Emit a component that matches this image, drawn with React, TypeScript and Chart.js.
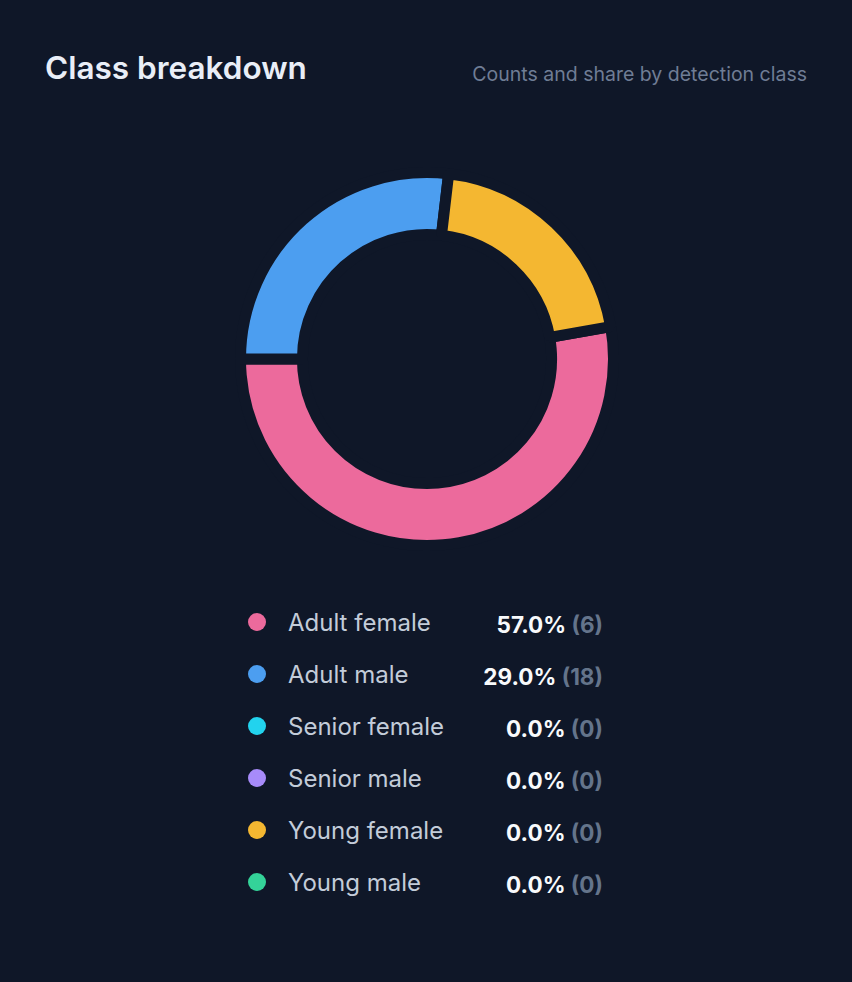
import React, { useEffect, useRef } from "react";
import { Chart, registerables } from "chart.js";

Chart.register(...registerables);

// Detection classes and their swatch colours
const classes = [
  "Adult female",
  "Adult male",
  "Senior female",
  "Senior male",
  "Young female",
  "Young male",
];
const classColors = ["#ec6a9c", "#4c9ef0", "#22d3ee", "#a78bfa", "#f4b731", "#34d399"];

// Share (%) and count printed in the legend list
const sharePercents = [57.0, 29.0, 0.0, 0.0, 0.0, 0.0];
const classCounts = [6, 18, 0, 0, 0, 0];

// Values the doughnut ring is drawn from
const ringValues = [57, 29, 0, 0, 22, 0];

const BG = "#0f1728";

export default function App() {
  const canvasRef = useRef<HTMLCanvasElement>(null);

  useEffect(() => {
    if (!canvasRef.current) return;
    const chart = new Chart(canvasRef.current, {
      type: "doughnut",
      data: {
        labels: classes,
        datasets: [
          {
            data: ringValues,
            backgroundColor: classColors,
            borderColor: BG,
            borderWidth: 11,
            hoverOffset: 0,
          },
        ],
      },
      options: {
        responsive: false,
        animation: false,
        rotation: 80,
        cutout: "66.8%",
        layout: { padding: 0 },
        plugins: {
          legend: { display: false },
          tooltip: { enabled: false },
        },
      },
    });
    return () => chart.destroy();
  }, []);

  return (
    <div
      style={{
        position: "fixed",
        inset: 0,
        background: BG,
        fontFamily: "Inter, 'Noto Sans', sans-serif",
      }}
    >
      <div
        style={{
          position: "absolute",
          left: 45,
          top: 49,
          fontSize: 31.5,
          lineHeight: "38px",
          fontWeight: 600,
          color: "#e9eef7",
          whiteSpace: "nowrap",
        }}
      >
        Class breakdown
      </div>
      <div
        style={{
          position: "absolute",
          right: 45,
          top: 62,
          fontSize: 19.5,
          lineHeight: "24px",
          color: "#6f7d95",
          whiteSpace: "nowrap",
        }}
      >
        Counts and share by detection class
      </div>

      <canvas
        ref={canvasRef}
        width={384}
        height={384}
        style={{ position: "absolute", left: 235, top: 167, width: 384, height: 384 }}
      />

      <div style={{ position: "absolute", left: 248, top: 596, width: 355 }}>
        {classes.map((name, i) => (
          <div
            key={name}
            style={{ display: "flex", alignItems: "center", height: 52 }}
          >
            <span
              style={{
                width: 18,
                height: 18,
                borderRadius: "50%",
                background: classColors[i],
                flex: "0 0 auto",
              }}
            />
            <span
              style={{
                marginLeft: 22,
                fontSize: 24,
                color: "#c3ccd9",
                flex: "1 1 auto",
                whiteSpace: "nowrap",
              }}
            >
              {name}
            </span>
            <span
              style={{
                fontSize: 22.5,
                fontWeight: 700,
                whiteSpace: "nowrap",
                position: "relative",
                top: 2,
              }}
            >
              <span style={{ color: "#f8fafc" }}>{sharePercents[i].toFixed(1)}%</span>
              <span style={{ color: "#64748b" }}> ({classCounts[i]})</span>
            </span>
          </div>
        ))}
      </div>
    </div>
  );
}
